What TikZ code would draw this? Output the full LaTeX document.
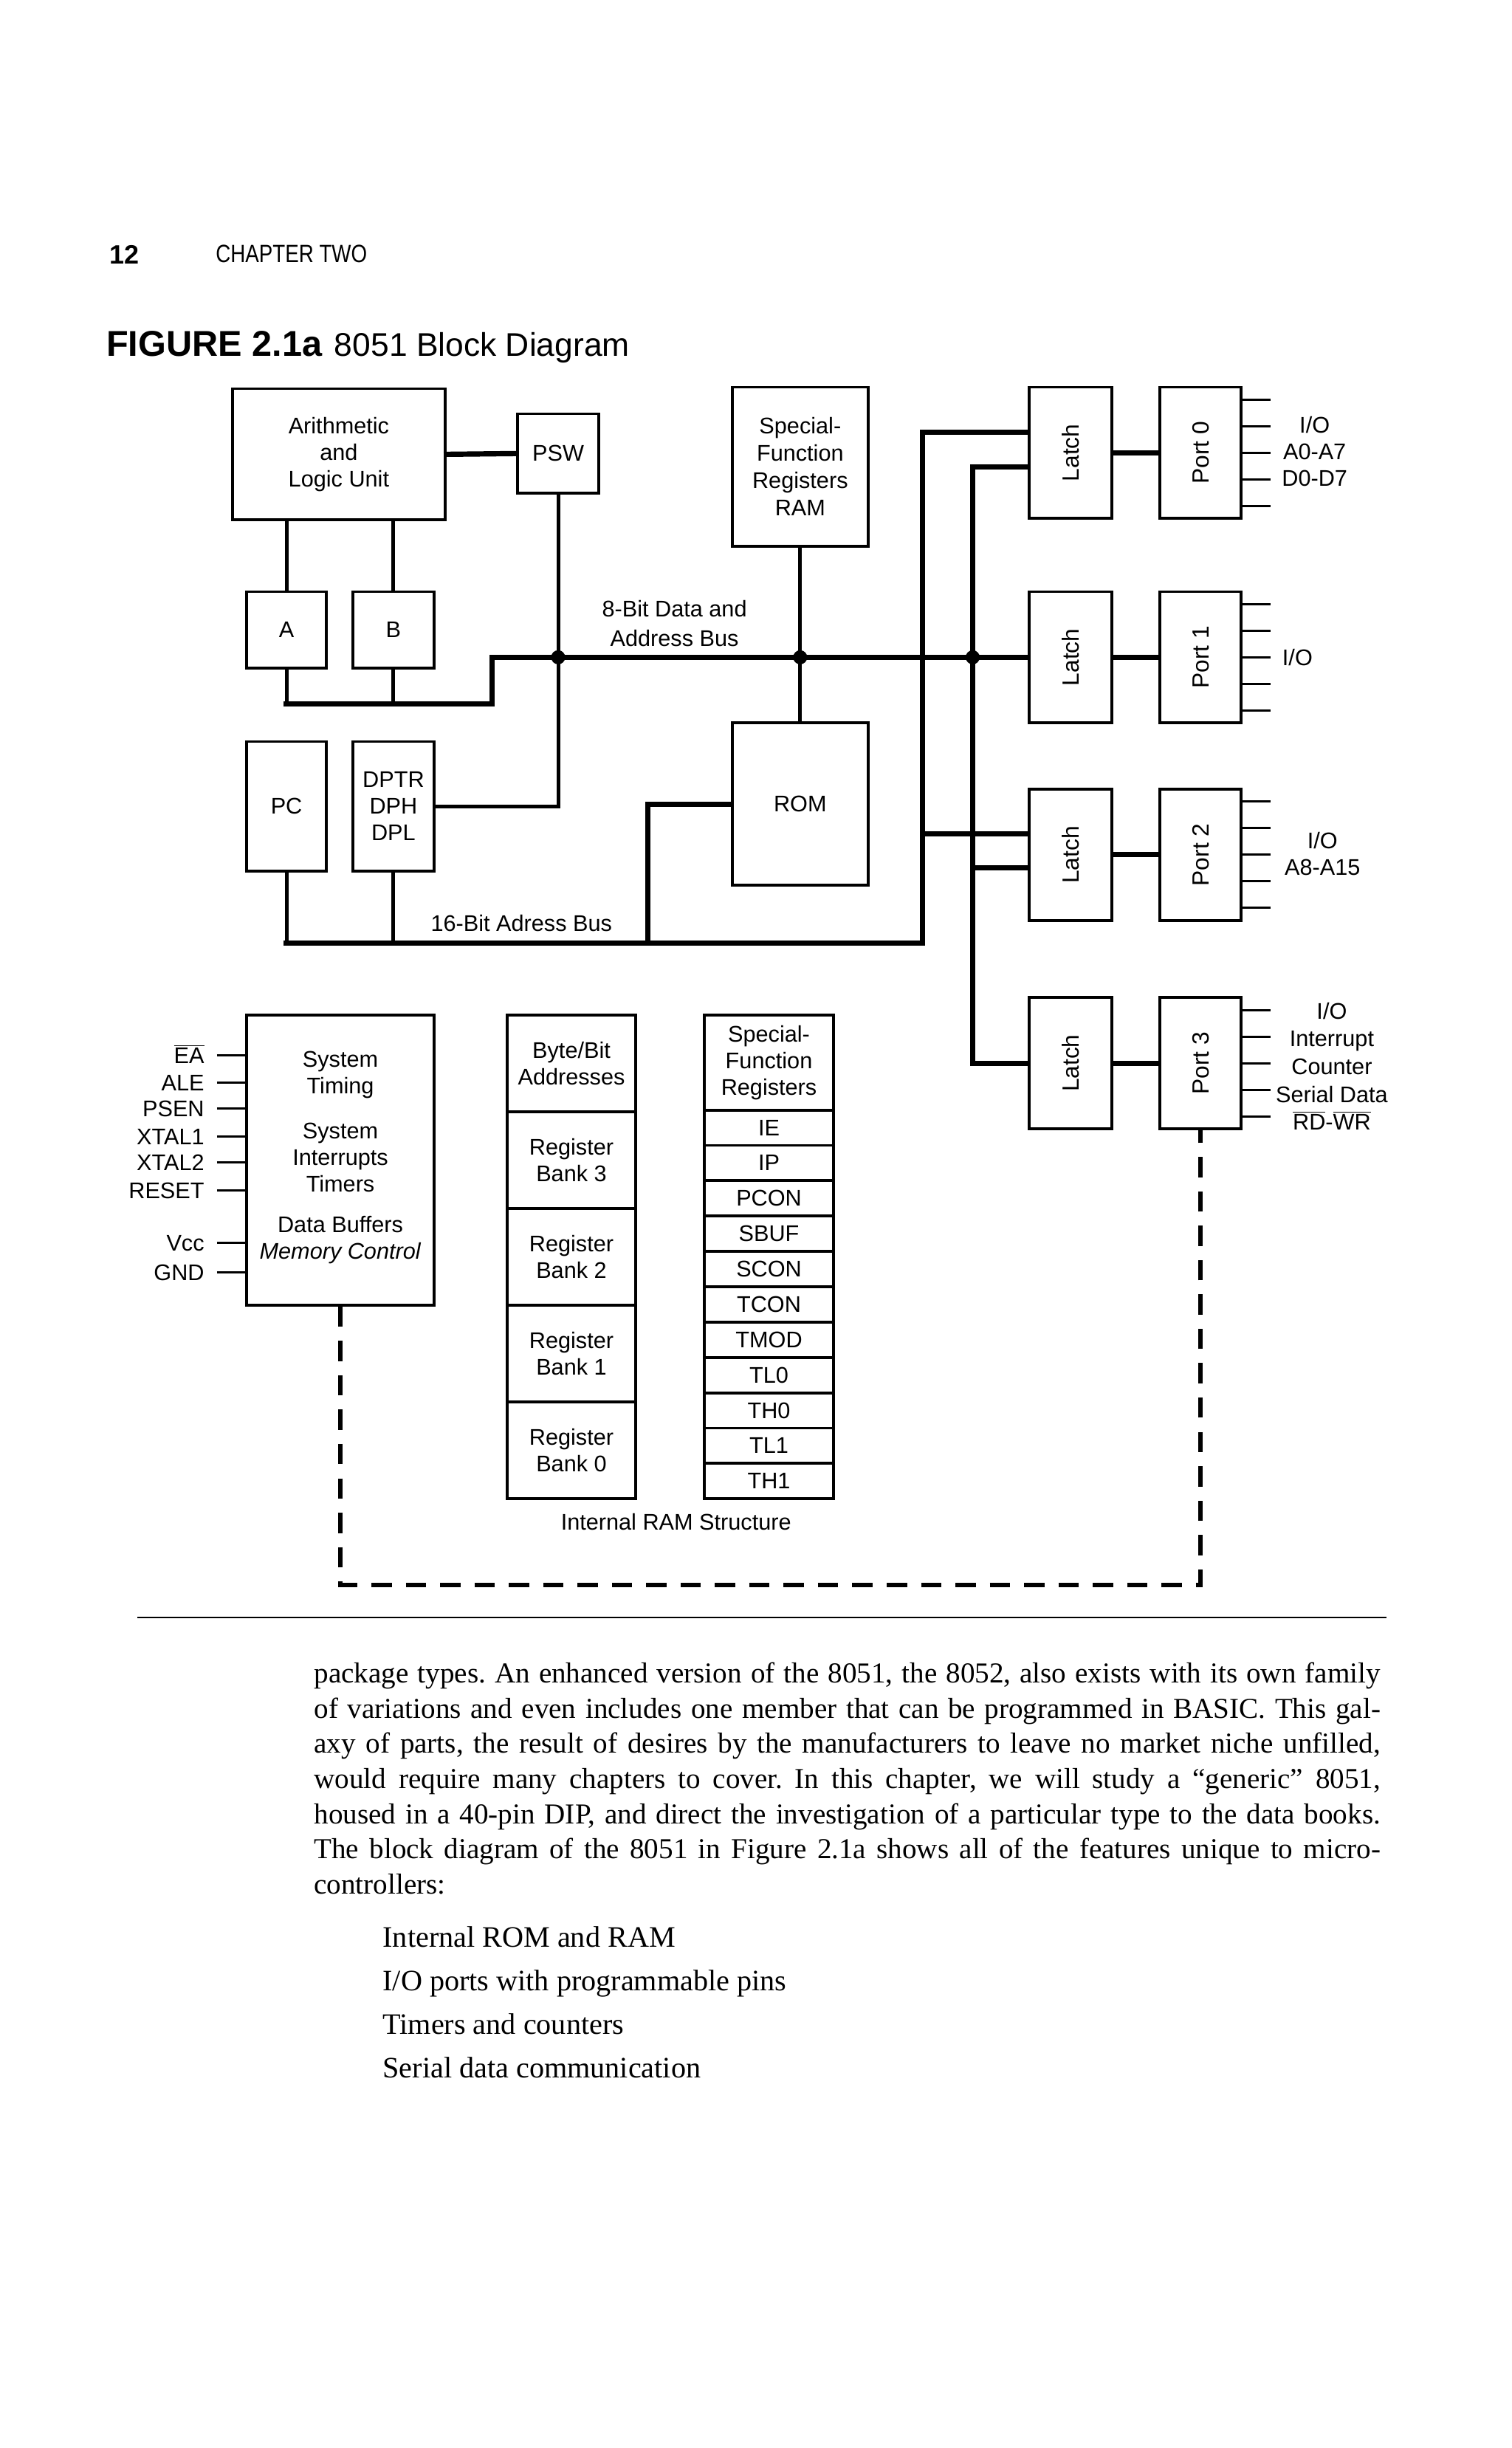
\documentclass[tikz,border=0pt]{standalone}
\usepackage{fontspec}
\setmainfont{Liberation Sans}
\newfontfamily\serfont{Liberation Serif}
\newfontfamily\narrowfont[FakeStretch=0.82]{Liberation Sans}
\usetikzlibrary{calc}
\begin{document}
\frenchspacing
\begin{tikzpicture}[x=1pt,y=-1pt,
  box/.style={draw, line width=1.8pt, inner sep=0pt},
  lbl/.style={font=\fontsize{14.5}{17}\selectfont, align=center, inner sep=0pt},
  rlbl/.style={font=\fontsize{15}{17}\selectfont, inner sep=0pt, rotate=90},
  bus/.style={line width=3.4pt, line cap=rect},
  wire/.style={line width=2.4pt, line cap=rect},
  pin/.style={line width=1.4pt},
  dot/.style={circle, fill, inner sep=0pt, minimum size=9pt},
  dashl/.style={line width=2.8pt, dash pattern=on 13pt off 9pt},
  para/.style={anchor=base west, inner sep=0pt, font=\serfont\fontsize{18.5}{22}\selectfont},
  listi/.style={anchor=base west, inner sep=0pt, font=\serfont\fontsize{19}{22}\selectfont}
]
\fill[white] (0,0) rectangle (968,1568);
\useasboundingbox (0,0) rectangle (968,1568);

% header
\node[anchor=base west, inner sep=0pt, font=\bfseries\fontsize{17}{17}\selectfont] (pg) at (70,169) {12};
\node[anchor=base west, inner sep=0pt, font=\narrowfont\fontsize{16}{16}\selectfont] (chap) at (138,168) {CHAPTER TWO};
\node[anchor=base west, inner sep=0pt, font=\bfseries\fontsize{23}{23}\selectfont] (fig) at (68,228) {FIGURE 2.1a};
\node[anchor=base west, inner sep=0pt, font=\fontsize{21}{21}\selectfont] (figt) at (214,228) {8051 Block Diagram};

% upper blocks
\node[box, lbl, minimum width=136pt, minimum height=84pt] (alu) at (217,291) {Arithmetic\\and\\Logic Unit};
\node[box, lbl, minimum width=52pt, minimum height=51pt] (psw) at (357.5,290.5) {PSW};
\node[box, lbl, minimum width=87pt, minimum height=102pt, font=\fontsize{14.5}{17.5}\selectfont] (sfrram) at (512.5,299) {Special-\\Function\\Registers\\RAM};
\node[box, lbl, minimum width=51pt, minimum height=49pt] (a) at (183.5,403.5) {A};
\node[box, lbl, minimum width=52pt, minimum height=49pt] (b) at (252,403.5) {B};
\node[box, lbl, minimum width=51pt, minimum height=83pt] (pc) at (183.5,516.5) {PC};
\node[box, lbl, minimum width=52pt, minimum height=83pt] (dptr) at (252,516.5) {DPTR\\DPH\\DPL};
\node[box, lbl, minimum width=87pt, minimum height=104pt] (rom) at (512.5,515) {ROM};

% latches and ports
\foreach \n/\y in {0/290,1/421,2/547.5,3/681} {
  \node[box, minimum width=53pt, minimum height=84pt] (latch\n) at (685.5,\y) {};
  \node[rlbl] (latcht\n) at (latch\n) {Latch};
  \node[box, minimum width=52pt, minimum height=84pt] (port\n) at (769,\y) {};
  \node[rlbl] (portt\n) at (port\n) {Port \n};
  \draw[bus] (latch\n.east) -- (port\n.west);
  \foreach \d in {-34,-17,0,17,34}
    \draw[pin] ($(port\n.east)+(0,\d)$) -- ++(18,0);
}
\node[lbl] (p0l) at (842,289) {I/O\\A0-A7\\D0-D7};
\node[lbl] (p1l) at (831,421) {I/O};
\node[lbl] (p2l) at (847,547) {I/O\\A8-A15};
\node[lbl, font=\fontsize{14.5}{17.8}\selectfont] (p3l) at (853,683) {I/O\\Interrupt\\Counter\\Serial Data\\$\overline{\mbox{RD}}$-$\overline{\mbox{WR}}$};

% buses and wires
\coordinate (ab) at (315,451);
\coordinate (bL) at (315,421);
\draw[wire] (alu.south -| a.north) -- (a.north);
\draw[wire] (alu.south -| b.north) -- (b.north);
\draw[wire] (a.south) -- (a.south |- ab);
\draw[wire] (b.south) -- (b.south |- ab);
\draw[bus] (a.south |- ab) -- (ab) -- (bL) -- (latch1.west);
\draw[bus] (alu.east) -- (psw.west);
\draw[wire] (psw.south) -- (psw.south |- dptr.east) -- (dptr.east);
\draw[wire] (sfrram.south) -- (rom.north);
\coordinate (romj) at (415,604);
\draw[bus] (rom.west) -| (romj);
\coordinate (b16l) at (183.5,604);
\coordinate (b16r) at (591,604);
\draw[wire] (pc.south) -- (pc.south |- b16l);
\draw[wire] (dptr.south) -- (dptr.south |- b16l);
\coordinate (o0) at (591,277);
\coordinate (o2) at (591,534);
\coordinate (i0) at (623,299);
\coordinate (i2) at (623,556);
\coordinate (i3) at (623,681);
\draw[bus] (b16l) -- (b16r) -- (o0) -- (o0 -| latch0.west);
\draw[bus] (o2) -- (o2 -| latch2.west);
\draw[bus] (i0 -| latch0.west) -- (i0) -- (i3) -- (latch3.west);
\draw[bus] (i2) -- (i2 -| latch2.west);
\node[dot] (j1) at (psw.south |- bL) {};
\node[dot] (j2) at (sfrram.south |- bL) {};
\node[dot] (j3) at (i0 |- bL) {};
\node[lbl, font=\fontsize{14.5}{19}\selectfont] (l8) at (432,399.5) {8-Bit Data and\\Address Bus};
\node[lbl] (l16) at (334,591.5) {16-Bit Adress Bus};

% system block
\node[box, minimum width=120pt, minimum height=186pt] (sys) at (218,743) {};
\node[lbl] (syst) at (218,741.5) {System\\Timing\\[12pt]System\\Interrupts\\Timers\\[9pt]Data Buffers\\\textit{Memory Control}};
\foreach \nm/\t/\y in {ea/{$\overline{\mbox{EA}}$}/676, ale/ALE/693.5, psen/PSEN/710, xa/XTAL1/728, xb/XTAL2/744.5, rst/RESET/762.5, vcc/Vcc/796, gnd/GND/815} {
  \node[lbl, anchor=base east] (\nm) at (131,\y+5.2) {\t};
  \coordinate (\nm p) at (139,\y);
  \draw[pin] (\nm p) -- (\nm p -| sys.west);
}

% internal RAM structure
\foreach \t [count=\i from 0] in {Byte/Bit\\Addresses, Register\\Bank 3, Register\\Bank 2, Register\\Bank 1, Register\\Bank 0}
  \node[box, lbl, minimum width=82pt, minimum height=62pt] (r\i) at (366,681+62*\i) {\t};
\node[box, lbl, minimum width=83pt, minimum height=61pt] (sfrh) at (492.5,680.5) {Special-\\Function\\Registers};
\foreach \t [count=\i from 0] in {IE,IP,PCON,SBUF,SCON,TCON,TMOD,TL0,TH0,TL1,TH1}
  \node[box, lbl, minimum width=83pt, minimum height=22.64pt] (sf\i) at (492.5,722.3+22.64*\i) {\t};
\node[lbl] (ramt) at (433,975) {Internal RAM Structure};

% dashed connector
\coordinate (dr) at (769,1015);
\draw[dashl] (sys.south) -- (sys.south |- dr) -- (dr) -- (port3.south);

% rule
\coordinate (rl) at (88,1036);
\coordinate (rr) at (888,1036);
\draw[line width=1.3pt] (rl) -- (rr);

% text
\node[para] (t1) at (201,1078) {\makebox[683pt][s]{package types. An enhanced version of the 8051, the 8052, also exists with its own family}};
\node[para] (t2) at (201,1100.5) {\makebox[683pt][s]{of variations and even includes one member that can be programmed in BASIC. This gal-}};
\node[para] (t3) at (201,1123) {\makebox[683pt][s]{axy of parts, the result of desires by the manufacturers to leave no market niche unfilled,}};
\node[para] (t4) at (201,1145.5) {\makebox[683pt][s]{would require many chapters to cover. In this chapter, we will study a “generic” 8051,}};
\node[para] (t5) at (201,1168) {\makebox[683pt][s]{housed in a 40-pin DIP, and direct the investigation of a particular type to the data books.}};
\node[para] (t6) at (201,1190.5) {\makebox[683pt][s]{The block diagram of the 8051 in Figure 2.1a shows all of the features unique to micro-}};
\node[para] (t7) at (201,1213) {controllers:};
\node[listi] (li1) at (245,1247) {Internal ROM and RAM};
\node[listi] (li2) at (245,1275) {I/O ports with programmable pins};
\node[listi] (li3) at (245,1303) {Timers and counters};
\node[listi] (li4) at (245,1331) {Serial data communication};
\end{tikzpicture}
\end{document}
